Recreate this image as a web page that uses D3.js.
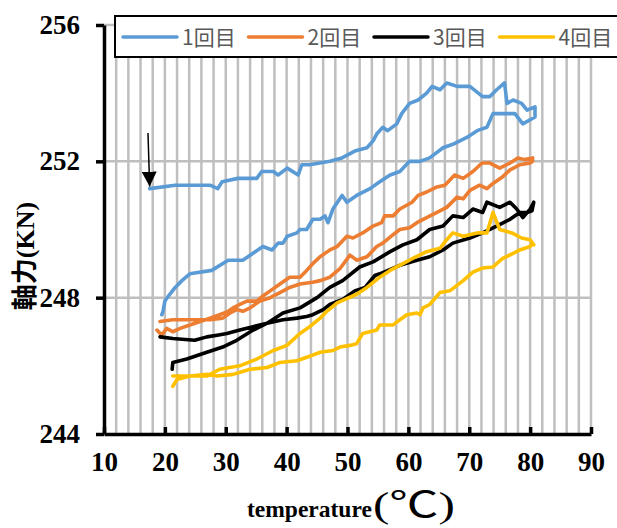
<!DOCTYPE html>
<html lang="ja">
<head>
  <meta charset="UTF-8">
  <title>軸力 - temperature</title>
  <script src="https://cdn.jsdelivr.net/npm/d3@7"></script>
  <style>
    body { margin: 0; background: #fff; }
  </style>
</head>
<body>
  <script>
    // 凡例
    const runNames = ['1回目', '2回目', '3回目', '4回目'];
    const runColors = ['#5B9BD5', '#ED7D31', '#000000', '#FFC000'];
    const xTicks = [10, 20, 30, 40, 50, 60, 70, 80, 90];
    const yTicks = [244, 248, 252, 256];

    // [temperature, 軸力]
    const run1 = [
      [17.5, 251.2], [21.7, 251.3], [27.4, 251.3], [28.7, 251.2], [29.4, 251.4], [32.0, 251.5],
      [35.1, 251.5], [35.9, 251.7], [37.8, 251.7], [38.6, 251.6], [40.1, 251.8], [41.9, 251.6],
      [42.5, 251.9], [43.8, 251.9], [47.1, 252.0], [49.1, 252.1], [51.2, 252.3], [53.2, 252.4],
      [54.2, 252.6], [54.8, 252.8], [55.8, 253.0], [56.6, 252.9], [58.1, 253.1], [58.9, 253.4],
      [60.2, 253.7], [61.6, 253.8], [63.0, 254.0], [63.9, 254.2], [65.2, 254.1], [66.3, 254.3],
      [68.0, 254.2], [70.1, 254.2], [72.2, 253.9], [73.4, 253.9], [74.5, 254.1], [75.8, 254.3],
      [76.2, 253.7], [77.2, 253.8], [78.6, 253.7], [79.5, 253.5], [80.8, 253.6],
      [80.8, 253.3], [78.8, 253.1], [77.5, 253.4], [75.5, 253.4], [73.9, 253.4], [72.9, 253.0],
      [71.3, 252.9], [69.6, 252.7], [67.3, 252.5], [65.7, 252.4], [63.5, 252.1], [61.9, 252.0],
      [60.2, 252.0], [58.6, 251.7], [57.0, 251.6], [55.3, 251.4], [53.7, 251.2], [51.5, 251.0],
      [49.9, 250.8], [49.1, 251.0], [47.6, 250.6], [46.8, 250.2], [46.3, 250.4], [45.5, 250.3],
      [44.3, 250.3], [43.3, 250.0], [42.2, 250.0], [41.7, 249.9], [40.1, 249.8], [39.4, 249.6],
      [38.6, 249.6], [37.6, 249.4], [36.1, 249.5], [32.8, 249.1], [30.4, 249.1], [27.7, 248.8],
      [24.1, 248.7], [22.8, 248.5], [21.7, 248.3], [20.8, 248.1], [20.0, 247.9], [19.7, 247.6],
      [19.5, 247.5]
    ];
    const run2 = [
      [18.7, 247.05], [19.5, 246.9], [20.3, 247.1], [21.3, 247.0], [22.5, 247.1], [24.1, 247.2],
      [25.8, 247.3], [27.4, 247.4], [29.0, 247.5], [30.4, 247.6], [31.2, 247.7], [32.3, 247.8],
      [33.5, 247.9], [35.1, 247.9], [36.1, 248.05], [37.3, 248.2], [38.9, 248.4], [40.5, 248.6],
      [42.2, 248.6], [43.3, 248.8], [44.3, 249.0], [45.5, 249.2], [46.3, 249.3], [47.1, 249.4],
      [48.3, 249.5], [49.9, 249.8], [50.9, 249.75], [52.5, 249.9], [54.2, 250.1], [55.6, 250.2],
      [56.1, 250.4], [57.5, 250.4], [58.6, 250.6], [60.6, 250.8], [61.6, 251.0], [63.0, 251.1],
      [64.7, 251.25], [66.0, 251.3], [67.6, 251.6], [69.0, 251.5], [70.6, 251.7], [72.1, 251.95],
      [73.4, 251.95], [75.0, 251.8], [76.7, 251.95], [78.0, 252.1], [79.1, 252.05], [80.4, 252.1],
      [80.4, 252.0], [80.0, 251.95], [78.3, 251.9], [76.7, 251.75], [75.5, 251.55], [73.9, 251.35],
      [72.9, 251.2], [71.7, 251.3], [70.1, 251.15], [69.0, 250.9], [68.0, 250.95], [66.3, 250.65],
      [64.7, 250.5], [63.0, 250.35], [61.4, 250.2], [60.2, 250.05], [58.6, 250.0], [57.5, 249.85],
      [55.8, 249.6], [54.8, 249.5], [53.2, 249.2], [51.5, 249.1], [50.4, 249.25], [48.75, 248.85],
      [47.1, 248.6], [45.5, 248.5], [44.3, 248.45], [42.2, 248.4], [40.5, 248.3], [38.9, 248.15],
      [37.3, 248.0], [35.6, 247.9], [34.0, 247.7], [32.8, 247.6], [31.8, 247.65], [30.7, 247.55],
      [29.5, 247.4], [27.4, 247.35], [24.1, 247.35], [21.3, 247.35], [19.2, 247.3]
    ];
    const run3 = [
      [21.2, 245.9], [21.3, 246.1], [23.6, 246.2], [26.9, 246.4], [29.5, 246.55], [31.8, 246.75],
      [34.5, 247.05], [36.8, 247.25], [39.4, 247.55], [42.2, 247.7], [45.0, 248.0], [47.1, 248.3],
      [49.2, 248.5], [52.0, 248.9], [54.2, 249.05], [57.0, 249.35], [59.1, 249.55], [61.4, 249.7],
      [63.5, 250.0], [65.7, 250.1], [67.3, 250.4], [69.0, 250.35], [70.6, 250.6], [72.2, 250.5],
      [72.9, 250.8], [75.0, 250.65], [76.7, 250.8], [77.8, 250.6], [78.8, 250.35], [80.0, 250.6],
      [80.6, 250.8],
      [80.3, 250.55], [79.5, 250.5], [78.3, 250.5], [76.7, 250.3], [74.5, 250.1], [72.2, 249.9],
      [70.1, 249.75], [67.3, 249.6], [65.7, 249.4], [63.5, 249.2], [61.4, 249.1], [58.6, 248.95],
      [55.3, 248.7], [54.5, 248.65], [52.9, 248.3], [51.2, 248.2], [49.2, 247.95], [47.1, 247.8],
      [46.0, 247.65], [44.3, 247.5], [43.3, 247.45], [41.7, 247.4], [39.4, 247.35], [36.8, 247.25],
      [34.5, 247.15], [32.3, 247.05], [30.2, 246.95], [28.6, 246.9], [26.9, 246.85], [24.9, 246.75],
      [21.3, 246.8], [19.2, 246.85]
    ];
    const run4 = [
      [21.3, 245.7], [24.1, 245.7], [26.9, 245.7], [29.0, 245.9], [32.3, 246.0], [35.1, 246.2],
      [37.8, 246.45], [40.05, 246.6], [42.2, 246.95], [43.8, 247.15], [45.5, 247.4], [46.6, 247.6],
      [48.3, 247.85], [51.5, 248.1], [53.2, 248.3], [55.3, 248.6], [57.0, 248.8], [59.1, 249.0],
      [60.7, 249.15], [63.0, 249.35], [65.2, 249.45], [66.3, 249.7], [67.3, 249.9], [69.0, 249.8],
      [71.3, 249.9], [72.9, 249.9], [73.9, 250.5], [75.0, 250.0], [77.0, 249.9], [78.6, 249.75],
      [80.0, 249.7], [80.6, 249.55],
      [80.4, 249.6], [80.0, 249.5], [78.3, 249.4], [77.2, 249.3], [75.5, 249.15], [74.5, 249.0],
      [73.9, 248.9], [72.2, 248.87], [70.6, 248.75], [69.0, 248.5], [66.8, 248.2], [65.2, 248.15],
      [63.5, 247.8], [62.4, 247.7], [61.9, 247.5], [61.4, 247.55], [59.75, 247.5], [58.6, 247.35],
      [57.5, 247.2], [55.3, 247.2], [54.8, 247.05], [52.5, 246.95], [51.5, 246.65], [50.4, 246.6],
      [48.75, 246.55], [47.6, 246.45], [45.5, 246.4], [43.3, 246.25], [41.7, 246.15], [38.9, 246.1],
      [36.8, 245.95], [34.0, 245.9], [31.2, 245.75], [28.6, 245.7], [26.9, 245.75], [24.1, 245.7],
      [22.0, 245.6], [21.3, 245.4]
    ];
    const runs = [run1, run2, run3, run4];

    const W = 617, H = 528;
    const svg = d3.select('body').append('svg')
      .attr('width', W).attr('height', H);

    const x = d3.scaleLinear().domain([10, 90]).range([104, 591]);
    const y = d3.scaleLinear().domain([244, 256]).range([434, 25]);

    // グリッド線
    const grid = svg.append('g').attr('stroke', '#bfbfbf').attr('stroke-width', 2.5);
    grid.selectAll('.vg').data(d3.range(12, 91, 2)).join('line')
      .attr('x1', d => x(d)).attr('x2', d => x(d))
      .attr('y1', y(256)).attr('y2', y(244));
    grid.selectAll('.hg').data(yTicks.slice(1)).join('line')
      .attr('x1', x(10)).attr('x2', x(90))
      .attr('y1', d => y(d)).attr('y2', d => y(d));

    // 系列
    const lineGen = d3.line().x(d => x(d[0])).y(d => y(d[1]));
    runs.forEach((r, i) => {
      svg.append('path')
        .attr('d', lineGen(r))
        .attr('fill', 'none')
        .attr('stroke', runColors[i])
        .attr('stroke-width', 3.6)
        .attr('stroke-linejoin', 'round')
        .attr('stroke-linecap', 'round');
    });

    const numFont = '"Liberation Serif", "Times New Roman", serif';

    // Y軸
    const yAxis = svg.append('g')
      .attr('transform', `translate(${x(10)},0)`)
      .call(d3.axisLeft(y).tickValues(yTicks).tickSize(8).tickSizeOuter(0).tickPadding(16));
    // X軸
    const xAxis = svg.append('g')
      .attr('transform', `translate(0,${y(244)})`)
      .call(d3.axisBottom(x).tickValues(xTicks).tickSizeInner(-7).tickSizeOuter(0).tickPadding(18));

    [yAxis, xAxis].forEach(a => {
      a.select('.domain').attr('stroke', '#000').attr('stroke-width', 3.5);
      a.selectAll('.tick line').attr('stroke', '#000').attr('stroke-width', 3.5);
      a.selectAll('.tick text')
        .attr('fill', '#000')
        .style('font-family', numFont)
        .style('font-weight', 'bold')
        .style('font-size', '27px');
    });

    // 軸タイトル
    const yt = svg.append('text')
      .attr('transform', `translate(34,256) rotate(-90)`)
      .attr('text-anchor', 'middle')
      .style('font-weight', 'bold')
      .style('font-size', '26px');
    yt.append('tspan').text('軸力').style('font-family', '"Noto Sans CJK JP", sans-serif');
    yt.append('tspan').text('(KN)').style('font-family', numFont);

    svg.append('text')
      .attr('x', 247).attr('y', 517)
      .style('font-family', numFont).style('font-weight', 'bold').style('font-size', '23.5px')
      .text('temperature');
    const unit = svg.append('text')
      .attr('x', 373).attr('y', 517)
      .attr('textLength', 82).attr('lengthAdjust', 'spacingAndGlyphs');
    unit.append('tspan').text('(')
      .style('font-family', numFont).style('font-size', '35px');
    unit.append('tspan').text('℃')
      .style('font-family', '"Noto Sans CJK JP", sans-serif').style('font-size', '35px');
    unit.append('tspan').text(')')
      .style('font-family', numFont).style('font-size', '35px');

    // 凡例
    const legend = svg.append('g');
    legend.append('rect')
      .attr('x', 115).attr('y', 16).attr('width', 520).attr('height', 41)
      .attr('fill', '#fff').attr('stroke', '#000').attr('stroke-width', 2);
    runNames.forEach((name, i) => {
      const lx = 123 + i * 125.5;
      legend.append('line')
        .attr('x1', lx).attr('x2', lx + 54)
        .attr('y1', 37).attr('y2', 37)
        .attr('stroke', runColors[i]).attr('stroke-width', 3.5)
        .attr('stroke-linecap', 'round');
      legend.append('text')
        .attr('x', lx + 59).attr('y', 45)
        .attr('fill', '#595959')
        .style('font-family', '"Noto Sans CJK JP", sans-serif')
        .style('font-size', '21px')
        .text(name);
    });

    // 矢印 (開始点)
    svg.append('defs').append('marker')
      .attr('id', 'arrowHead')
      .attr('viewBox', '0 0 10 10')
      .attr('refX', 10).attr('refY', 5)
      .attr('markerWidth', 10).attr('markerHeight', 10)
      .attr('markerUnits', 'strokeWidth')
      .attr('orient', 'auto')
      .append('path').attr('d', 'M0,0 L10,5 L0,10 Z').attr('fill', '#000');
    svg.append('line')
      .attr('x1', 148).attr('y1', 133)
      .attr('x2', x(run1[0][0])).attr('y2', y(run1[0][1]) - 2)
      .attr('stroke', '#000').attr('stroke-width', 1.5)
      .attr('marker-end', 'url(#arrowHead)');
  </script>
</body>
</html>
